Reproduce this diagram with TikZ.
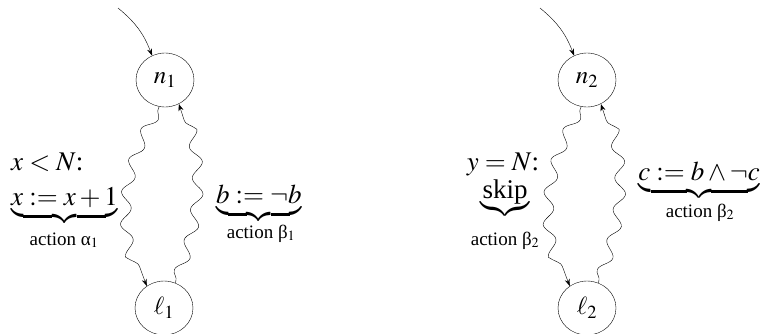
\documentclass[tikz,border=0pt]{standalone}
\usepackage{amsmath}
\usepackage{mathptmx}
\usepackage[no-math]{fontspec}
\setmainfont{Liberation Serif}
\usetikzlibrary{decorations.pathmorphing,arrows.meta,shapes.geometric}
\begin{document}
\begin{tikzpicture}[x=1pt,y=1pt,
  state/.style={draw,ellipse,minimum width=58pt,minimum height=54pt,inner sep=0pt,font=\fontsize{25}{30}\selectfont},
  lbl/.style={inner sep=0pt,font=\fontsize{27}{32}\selectfont},
  act/.style={inner sep=0pt,font=\fontsize{19}{23}\selectfont},
  tip/.style={-{Stealth[length=7pt,width=5pt]}},
  wavy/.style={tip,decorate,decoration={snake,amplitude=5.5pt,segment length=32pt,pre length=2pt,post length=8pt}},
  entry/.style={tip}
]
\useasboundingbox (0,0) rectangle (760,333);
% panel 1
\node[state] (n1) at (165,253) {$n_1$};
\node[state] (l1) at (164,25) {$\ell_1$};
\coordinate (s1) at (118,325);
\draw[entry] (s1) to[bend left=15] (n1.118);
\draw[wavy] (n1.258) to[bend right=26] (l1.128);
\draw[wavy] (l1.66) to[bend right=20] (n1.300);
\node[lbl,anchor=base west] (g1) at (11,163) {$x<N$:};
\node[lbl,anchor=base west] (a1) at (11,128) {$\underbrace{\mathstrut x:=x+1}$};
\node[act,anchor=base] (t1) at (64,88) {action α$_1$};
\node[lbl,anchor=base west] (b1) at (216,130) {$\underbrace{\mathstrut b:=\neg b}$};
\node[act,anchor=base] (t2) at (261,95) {action β$_1$};
% panel 2
\node[state] (n2) at (587,253) {$n_2$};
\node[state] (l2) at (587,25) {$\ell_2$};
\coordinate (s2) at (540,325);
\draw[entry] (s2) to[bend left=15] (n2.118);
\draw[wavy] (n2.258) to[bend right=26] (l2.128);
\draw[wavy] (l2.66) to[bend right=20] (n2.300);
\node[lbl,anchor=base] (g2) at (503,163) {$y=N$:};
\node[lbl,anchor=base] (k2) at (505,135) {$\underbrace{\mathstrut\text{skip}}$};
\node[act,anchor=base] (t3) at (505,88) {action β$_2$};
\node[lbl,anchor=base east] (c2) at (760,153) {$\underbrace{\mathstrut c:=b\wedge\neg c}$};
\node[act,anchor=base] (t4) at (700,116) {action β$_2$};
\end{tikzpicture}
\end{document}
